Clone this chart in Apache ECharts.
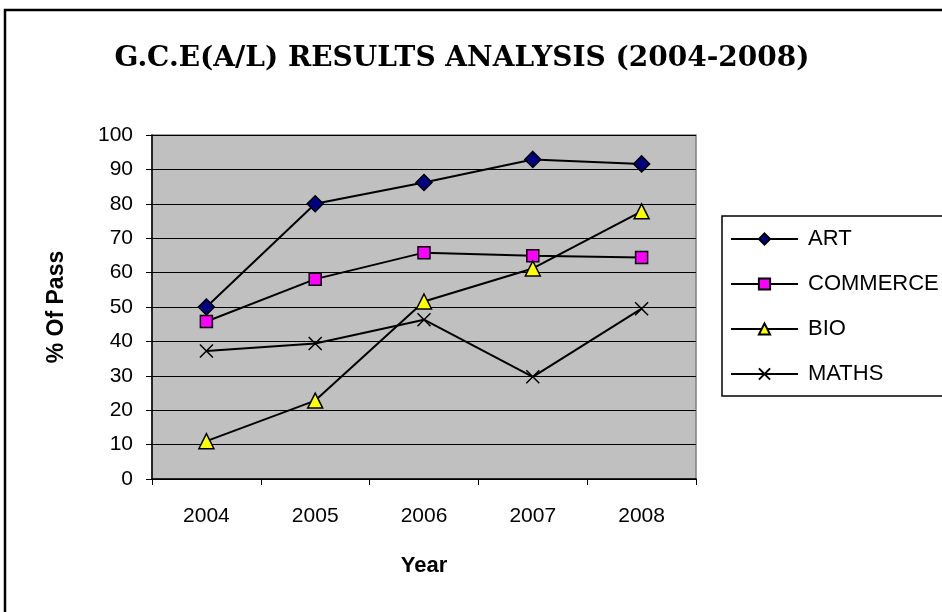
<!DOCTYPE html>
<html>
<head>
<meta charset="utf-8">
<script src="https://cdn.jsdelivr.net/npm/echarts@6/dist/echarts.min.js"></script>
<style>html,body{margin:0;padding:0;background:#fff;}#c{width:942px;height:612px;}</style>
</head>
<body>
<div id="c"></div>
<script>
const years = ['2004', '2005', '2006', '2007', '2008'];
const art = [50, 80, 86.2, 92.9, 91.6];
const commerce = [45.8, 58.1, 65.8, 64.9, 64.4];
const bio = [11, 22.8, 51.6, 61.2, 77.8];
const maths = [37.2, 39.4, 46.3, 29.7, 49.5];
const yTicks = [0, 10, 20, 30, 40, 50, 60, 70, 80, 90, 100];

const chart = echarts.init(document.getElementById('c'));
const crossPath = 'path://M0,0L10,10M10,0L0,10';
function mk(name, data, symbol, size, fill) {
  return {
    name: name, type: 'line', data: data, symbol: symbol, symbolSize: size,
    showAllSymbol: true,
    lineStyle: { color: '#000', width: 2 },
    itemStyle: { color: fill, borderColor: '#000', borderWidth: 1.5 },
    emphasis: { disabled: true },
    animation: false
  };
}
chart.setOption({
  animation: false,
  backgroundColor: '#fff',
  title: {
    text: 'G.C.E(A/L) RESULTS ANALYSIS (2004-2008)',
    left: 457, top: 40, textAlign: 'center',
    textStyle: { fontFamily: 'DejaVu Serif', fontWeight: 'bold', fontSize: 28, color: '#000' }
  },
  graphic: [{
    type: 'rect', shape: { x: 5, y: 10, width: 1000, height: 700 },
    style: { fill: 'none', stroke: '#000', lineWidth: 2.5 }, z: 100, silent: true
  }],
  legend: {
    orient: 'vertical', left: 722, top: 216,
    padding: [12, 120, 11, 8], itemGap: 23, itemWidth: 67, itemHeight: 14,
    borderColor: '#000', borderWidth: 1.5, backgroundColor: '#fff',
    textStyle: { fontFamily: 'Liberation Sans', fontSize: 22, color: '#000', padding: [0, 0, 0, 5] },
    data: ['ART', 'COMMERCE', 'BIO', 'MATHS']
  },
  grid: {
    left: 152, top: 135, right: 246, bottom: 133,
    show: true, backgroundColor: '#C0C0C0', borderColor: '#808080', borderWidth: 1.5
  },
  xAxis: {
    type: 'category', data: years, boundaryGap: true,
    name: 'Year', nameLocation: 'middle', nameGap: 76,
    nameTextStyle: { fontFamily: 'Liberation Sans', fontWeight: 'bold', fontSize: 22, color: '#000' },
    axisLine: { lineStyle: { color: '#000', width: 1.5 } },
    axisTick: { show: true, alignWithLabel: false, length: 6, lineStyle: { color: '#000' } },
    axisLabel: { fontFamily: 'Liberation Sans', fontSize: 21, color: '#000', margin: 27 }
  },
  yAxis: {
    type: 'value', min: 0, max: 100, interval: 10,
    name: '% Of Pass', nameLocation: 'middle', nameGap: 84, nameRotate: 90,
    nameTextStyle: { fontFamily: 'Liberation Sans', fontWeight: 'bold', fontSize: 23, color: '#000' },
    axisLine: { show: true, lineStyle: { color: '#000', width: 1.5 } },
    axisTick: { show: true, length: 6, lineStyle: { color: '#000' } },
    axisLabel: { fontFamily: 'Liberation Sans', fontSize: 21, color: '#000', margin: 19,
      formatter: function (v) { return yTicks.indexOf(v) >= 0 ? String(v) : ''; } },
    splitLine: { show: true, lineStyle: { color: '#000', width: 1 } }
  },
  series: [
    mk('ART', art, 'diamond', 16, '#000080'),
    mk('COMMERCE', commerce, 'rect', 12, '#FF00FF'),
    mk('BIO', bio, 'triangle', 15, '#FFFF00'),
    mk('MATHS', maths, crossPath, 13, '#000')
  ]
});
</script>
</body>
</html>
